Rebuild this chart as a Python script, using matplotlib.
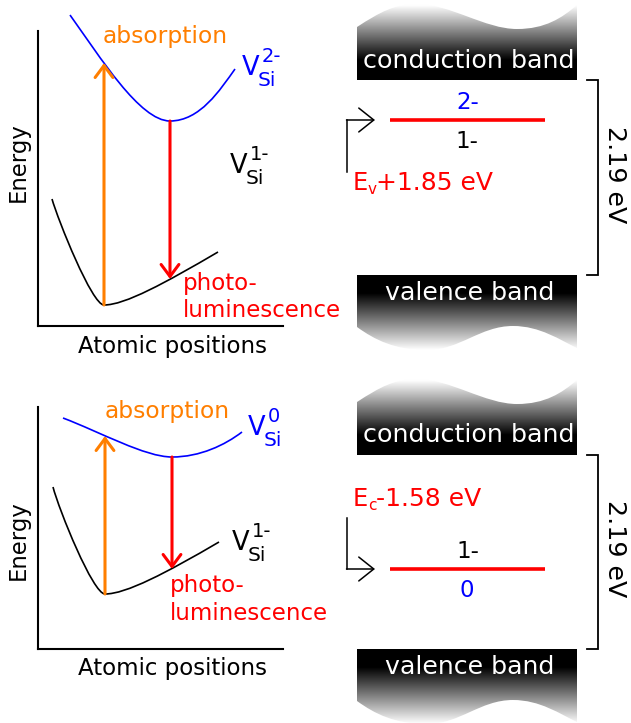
import numpy as np
import matplotlib
matplotlib.use("Agg")
import matplotlib.pyplot as plt
from matplotlib.path import Path
from matplotlib.patches import PathPatch

BLUE, RED, ORANGE = "#0000ff", "#ff0000", "#ff7f00"

# configuration curves, bezier control points (position, energy) from the axes origin
# start, ctrl, ctrl, minimum, ctrl, ctrl, end
upper_curves = [
    [(32, 311), (62, 269), (102, 205), (132, 205), (162, 205), (182, 236), (197, 257)],
    [(25, 231), (62, 217), (107, 192), (134, 192), (162, 192), (187, 204), (204, 217)],
]
lower_curves = [
    [(14, 127), (20, 106), (54, 21), (66, 21), (87, 21), (127, 43), (180, 74)],
    [(15, 162), (21, 139), (55, 55), (67, 55), (88, 55), (128, 76), (181, 107)],
]
# transitions: (position, start energy, end energy)
absorption = [(66, 21, 263), (67, 55, 213)]
emission = [(132, 205, 47), (134, 192, 80)]

upper_charge = ["2-", "0"]
lower_charge = ["1-", "1-"]
level_above = [("2-", BLUE), ("1-", "black")]
level_below = [("1-", "black"), ("0", BLUE)]
level_ref = [("E", "v", "+1.85 eV"), ("E", "c", "-1.58 eV")]
band_gap = "2.19 eV"

W, H = 631, 723
fig = plt.figure(figsize=(W / 100, H / 100), dpi=100)
ov = fig.add_axes([0, 0, 1, 1])
ov.set_xlim(0, W)
ov.set_ylim(H, 0)
ov.axis("off")


def bez(pts):
    return Path(pts, [Path.MOVETO] + [Path.CURVE4] * (len(pts) - 1))


def txt(x, y, s, size, color="black", ha="left", **kw):
    ov.text(x, y, s, fontsize=size, color=color, ha=ha, va="baseline", **kw)


def vlabel(x, y, sup, color):
    txt(x, y, "V", 18.5, color)
    txt(x + 16, y + 11, "Si", 14.5, color)
    txt(x + 20, y - 13, sup, 14, color)


def chevron(xy, xytext, color, lw, hl, hw, ax=ov):
    ax.annotate("", xy=xy, xytext=xytext, annotation_clip=False,
                arrowprops=dict(arrowstyle=f"->,head_length={hl},head_width={hw}",
                                color=color, lw=lw, shrinkA=0, shrinkB=0,
                                mutation_scale=20))


# left panels: potential energy curves
panels = [(31, 326), (407, 649)]
for i, (top, base) in enumerate(panels):
    ax = fig.add_axes([38 / W, (H - base) / H, 245 / W, (base - top) / H])
    ax.set_xlim(0, 245)
    ax.set_ylim(0, base - top)
    ax.patch.set_alpha(0)
    for s in ("top", "right"):
        ax.spines[s].set_visible(False)
    for s in ("left", "bottom"):
        ax.spines[s].set_linewidth(1.5)
    ax.set_xticks([])
    ax.set_yticks([])
    ax.add_patch(PathPatch(bez(upper_curves[i]), fc="none", ec=BLUE, lw=1.2, clip_on=False))
    ax.add_patch(PathPatch(bez(lower_curves[i]), fc="none", ec="black", lw=1.2, clip_on=False))
    for (x, e0, e1), c in ((absorption[i], ORANGE), (emission[i], RED)):
        chevron((x, e1), (x, e0), c, 2.2, 0.43, 0.32, ax=ax)

# labels of left panels
txt(25, 162, "Energy", 16.4, ha="center", rotation=90, rotation_mode="anchor")
txt(25, 540, "Energy", 16.4, ha="center", rotation=90, rotation_mode="anchor")
txt(172.5, 353, "Atomic positions", 16.5, ha="center")
txt(172, 675, "Atomic positions", 16.5, ha="center")
txt(103, 43.5, "absorption", 16.8, ORANGE)
txt(105, 418, "absorption", 16.8, ORANGE)
txt(183, 290, "photo-", 16.5, RED)
txt(183, 317, "luminescence", 16.5, RED)
txt(170, 592, "photo-", 16.5, RED)
txt(170, 620, "luminescence", 16.5, RED)
vlabel(242, 75, upper_charge[0], BLUE)
vlabel(230, 173, lower_charge[0], "black")
vlabel(248, 435, upper_charge[1], BLUE)
vlabel(232, 550, lower_charge[1], "black")

# right panels: band diagrams
cb_edge = [80, 455]
vb_edge = [275, 649]
level_y = [120, 569]
arrow_start = [172, 518]
ref_base = [190, 506]
xl, xr = 357, 577

cb_shape = [(xl, 0), (xl, -53), (380, -68), (395, -76), (417, -76), (450, -76),
            (485, -51), (517, -51), (545, -51), (562, -62), (xr, -75), (xr, 0), (xl, 0)]
cb_codes = [Path.MOVETO, Path.LINETO] + [Path.CURVE4] * 9 + [Path.LINETO, Path.CLOSEPOLY]
vb_shape = [(xl, 0), (xr, 0), (xr, 73), (560, 65), (540, 51), (513, 51), (480, 51),
            (460, 75), (427, 75), (395, 75), (375, 65), (xl, 52), (xl, 0)]
vb_codes = [Path.MOVETO, Path.LINETO, Path.LINETO] + [Path.CURVE4] * 9 + [Path.CLOSEPOLY]


def band(shape, codes, edge, y_black, y_white):
    pts = [(x, edge + y) for x, y in shape]
    patch = PathPatch(Path(pts, codes), fc="none", ec="none")
    ov.add_patch(patch)
    ys = [p[1] for p in pts]
    y0, y1 = min(ys), max(ys)
    yy = np.linspace(y0, y1, 300)
    val = np.clip((yy - (edge + y_black)) / (y_white - y_black), 0, 1)
    im = ov.imshow(val[:, None], cmap="gray", vmin=0, vmax=1, aspect="auto",
                   extent=(xl, xr, y1, y0), origin="upper", interpolation="bilinear")
    im.set_clip_path(patch)


for i in range(2):
    band(cb_shape, cb_codes, cb_edge[i], -20, -75)
    band(vb_shape, vb_codes, vb_edge[i], 18, 75)
    txt(468.5, cb_edge[i] - 12.5, "conduction band", 18.3, "white", ha="center")
    txt(470, vb_edge[i] + 25, "valence band", 18.2, "white", ha="center")

    # gap bracket
    ov.plot([587, 598, 598, 587], [cb_edge[i], cb_edge[i], vb_edge[i], vb_edge[i]],
            color="black", lw=1.3, solid_joinstyle="miter")
    txt(608, (cb_edge[i] + vb_edge[i]) / 2 - 3, band_gap, 18.2, ha="center",
        rotation=-90, rotation_mode="anchor")

    # defect level
    ov.plot([390, 545], [level_y[i], level_y[i]], color=RED, lw=2.6, solid_capstyle="butt")
    s, c = level_above[i]
    txt(468, level_y[i] - 11, s, 16.5, c, ha="center")
    s, c = level_below[i]
    txt(467, level_y[i] + 28, s, 16.5, c, ha="center")

    ov.plot([347, 347], [arrow_start[i], level_y[i]], color="black", lw=1.1)
    chevron((375, level_y[i]), (346.5, level_y[i]), "black", 1.1, 0.54, 0.43)

    e, sub, rest = level_ref[i]
    txt(353, ref_base[i], e, 17.4, RED)
    txt(368, ref_base[i] + 4, sub, 11, RED)
    txt(376, ref_base[i], rest, 18.0, RED)

fig.savefig("out.png", dpi=100)
